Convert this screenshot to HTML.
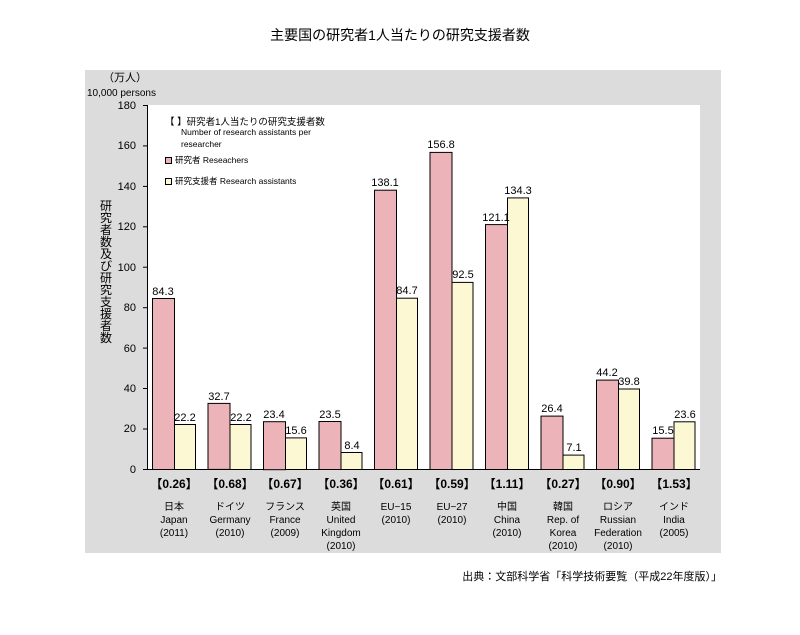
<!DOCTYPE html>
<html><head><meta charset="utf-8"><style>
body{margin:0;background:#fff;}
svg text{font-family:"Liberation Sans","Noto Sans CJK JP",sans-serif;fill:#000;}
</style></head><body>
<svg width="800" height="630" viewBox="0 0 800 630" xmlns="http://www.w3.org/2000/svg">
<rect x="0" y="0" width="800" height="630" fill="#fff"/>
<text x="400" y="40" font-size="14" text-anchor="middle">主要国の研究者1人当たりの研究支援者数</text>
<rect x="85" y="70" width="636" height="483" fill="#dcdcdc"/>
<rect x="147" y="105" width="553" height="364" fill="#fff"/>
<text x="125" y="81" font-size="11" text-anchor="middle">（万人）</text>
<text x="87" y="96" font-size="10">10,000 persons</text>
<g font-size="11" text-anchor="end">
<text x="136" y="109">180</text><text x="136" y="149">160</text><text x="136" y="190">140</text>
<text x="136" y="230">120</text><text x="136" y="271">100</text><text x="136" y="311">80</text>
<text x="136" y="352">60</text><text x="136" y="392">40</text><text x="136" y="432">20</text>
<text x="136" y="473">0</text>
</g>
<g stroke="#000" stroke-width="1">
<line x1="147.5" y1="105" x2="147.5" y2="469"/>
<line x1="147" y1="469.5" x2="700" y2="469.5"/>
<line x1="143" y1="105.5" x2="147" y2="105.5"/><line x1="143" y1="145.9" x2="147" y2="145.9"/>
<line x1="143" y1="186.4" x2="147" y2="186.4"/><line x1="143" y1="226.8" x2="147" y2="226.8"/>
<line x1="143" y1="267.2" x2="147" y2="267.2"/><line x1="143" y1="307.7" x2="147" y2="307.7"/>
<line x1="143" y1="348.1" x2="147" y2="348.1"/><line x1="143" y1="388.5" x2="147" y2="388.5"/>
<line x1="143" y1="429" x2="147" y2="429"/><line x1="143" y1="469.5" x2="147" y2="469.5"/>
</g>
<g font-size="12" text-anchor="middle">
<text x="106" y="210">研</text><text x="106" y="222">究</text><text x="106" y="234">者</text>
<text x="106" y="246">数</text><text x="106" y="258">及</text><text x="106" y="270">び</text>
<text x="106" y="282">研</text><text x="106" y="294">究</text><text x="106" y="306">支</text>
<text x="106" y="318">援</text><text x="106" y="330">者</text><text x="106" y="342">数</text>
</g>
<text x="165" y="125" font-size="9.5">【 】研究者1人当たりの研究支援者数</text>
<text x="181" y="135" font-size="8.5">Number of research assistants per</text>
<text x="181" y="147" font-size="8.5">researcher</text>
<rect x="165.5" y="157.5" width="6" height="6" fill="#ecb4b9" stroke="#000"/>
<text x="175" y="163" font-size="8.5">研究者 Reseachers</text>
<rect x="165.5" y="178.5" width="6" height="6" fill="#fbf8d3" stroke="#000"/>
<text x="175" y="184" font-size="8.5">研究支援者 Research assistants</text>
<g stroke="#000" stroke-width="1">
<rect x="152.5" y="298.5" width="22" height="171" fill="#ecb4b9"/><rect x="174.5" y="424.5" width="21" height="45" fill="#fbf8d3"/>
<rect x="208" y="403.4" width="22" height="66" fill="#ecb4b9"/><rect x="230" y="424.5" width="21" height="45" fill="#fbf8d3"/>
<rect x="263.5" y="421.7" width="22" height="48" fill="#ecb4b9"/><rect x="285.5" y="437.9" width="21" height="31.6" fill="#fbf8d3"/>
<rect x="319" y="421.5" width="22" height="48" fill="#ecb4b9"/><rect x="341" y="452.5" width="21" height="17" fill="#fbf8d3"/>
<rect x="374.5" y="190.2" width="22" height="279.3" fill="#ecb4b9"/><rect x="396.5" y="298.2" width="21" height="171.3" fill="#fbf8d3"/>
<rect x="430" y="152.4" width="22" height="317.1" fill="#ecb4b9"/><rect x="452" y="282.4" width="21" height="187.1" fill="#fbf8d3"/>
<rect x="485.5" y="224.6" width="22" height="244.9" fill="#ecb4b9"/><rect x="507.5" y="197.9" width="21" height="271.6" fill="#fbf8d3"/>
<rect x="541" y="416.1" width="22" height="53.4" fill="#ecb4b9"/><rect x="563" y="455.1" width="21" height="14.4" fill="#fbf8d3"/>
<rect x="596.5" y="380.1" width="22" height="89.4" fill="#ecb4b9"/><rect x="618.5" y="389" width="21" height="80.5" fill="#fbf8d3"/>
<rect x="652" y="438.2" width="22" height="31.3" fill="#ecb4b9"/><rect x="674" y="421.8" width="21" height="47.7" fill="#fbf8d3"/>
</g>
<g font-size="11" text-anchor="middle">
<text x="163" y="295">84.3</text><text x="185" y="421">22.2</text>
<text x="219" y="400">32.7</text><text x="241" y="421">22.2</text>
<text x="274" y="418">23.4</text><text x="296" y="434">15.6</text>
<text x="330" y="418">23.5</text><text x="352" y="449">8.4</text>
<text x="385" y="186">138.1</text><text x="407" y="294">84.7</text>
<text x="441" y="148">156.8</text><text x="463" y="278">92.5</text>
<text x="496" y="221">121.1</text><text x="518" y="194">134.3</text>
<text x="552" y="412">26.4</text><text x="574" y="451">7.1</text>
<text x="607" y="376">44.2</text><text x="629" y="385">39.8</text>
<text x="663" y="434">15.5</text><text x="685" y="418">23.6</text>
</g>
<g font-size="12" font-weight="bold" text-anchor="middle">
<text x="174" y="488">【0.26】</text><text x="230" y="488">【0.68】</text><text x="285" y="488">【0.67】</text>
<text x="341" y="488">【0.36】</text><text x="396" y="488">【0.61】</text><text x="452" y="488">【0.59】</text>
<text x="507" y="488">【1.11】</text><text x="563" y="488">【0.27】</text><text x="618" y="488">【0.90】</text>
<text x="674" y="488">【1.53】</text>
</g>
<g font-size="10" text-anchor="middle">
<text x="174" y="510">日本</text><text x="174" y="523">Japan</text><text x="174" y="536">(2011)</text>
<text x="230" y="510">ドイツ</text><text x="230" y="523">Germany</text><text x="230" y="536">(2010)</text>
<text x="285" y="510">フランス</text><text x="285" y="523">France</text><text x="285" y="536">(2009)</text>
<text x="341" y="510">英国</text><text x="341" y="523">United</text><text x="341" y="536">Kingdom</text><text x="341" y="549">(2010)</text>
<text x="396" y="510">EU−15</text><text x="396" y="523">(2010)</text>
<text x="452" y="510">EU−27</text><text x="452" y="523">(2010)</text>
<text x="507" y="510">中国</text><text x="507" y="523">China</text><text x="507" y="536">(2010)</text>
<text x="563" y="510">韓国</text><text x="563" y="523">Rep. of</text><text x="563" y="536">Korea</text><text x="563" y="549">(2010)</text>
<text x="618" y="510">ロシア</text><text x="618" y="523">Russian</text><text x="618" y="536">Federation</text><text x="618" y="549">(2010)</text>
<text x="674" y="510">インド</text><text x="674" y="523">India</text><text x="674" y="536">(2005)</text>
</g>
<text x="722" y="580" font-size="11" text-anchor="end">出典：文部科学省「科学技術要覧（平成22年度版）」</text>
</svg>
</body></html>
